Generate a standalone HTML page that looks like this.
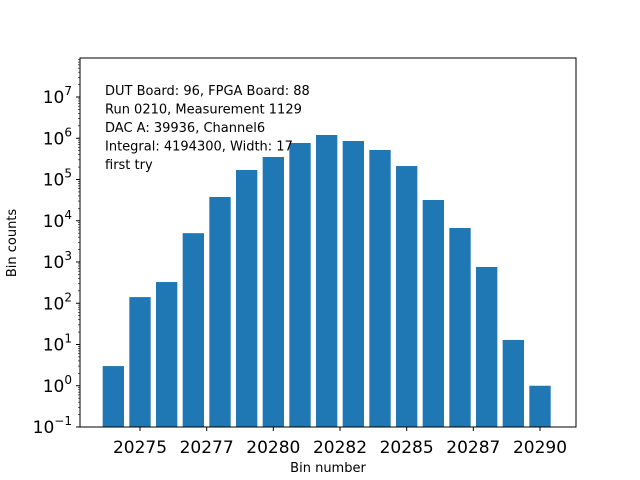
<!DOCTYPE html>
<html><head><meta charset="utf-8"><style>
body{margin:0;background:#fff}
svg{display:block;font-family:"DejaVu Sans","Liberation Sans",sans-serif}
</style></head><body>
<svg id="chart" width="640" height="480" viewBox="0 0 640 480"></svg>
<script>
const bins = [20274,20275,20276,20277,20278,20279,20280,20281,20282,20283,20284,20285,20286,20287,20288,20289,20290];
const counts = [3,141,327,5000,37700,170000,351000,767000,1200000,857000,519000,212000,31900,6670,757,12.9,1];
const xTicks = [20275,20277.5,20280,20282.5,20285,20287.5,20290];
const xTickLabels = ["20275","20277","20280","20282","20285","20287","20290"];
const yTickExps = [-1,0,1,2,3,4,5,6,7];
const infoLines = ["DUT Board: 96, FPGA Board: 88","Run 0210, Measurement 1129","DAC A: 39936, Channel6","Integral: 4194300, Width: 17","first try"];

const NS="http://www.w3.org/2000/svg";
const svg=document.getElementById('chart');
const L=80,R=576,T=58,B=427;
const pxPerDecade=41.25;
function x(v){return 140+(v-20275)*26.667;}
function y(v){return B-(Math.log10(v)+1)*pxPerDecade;}
function mk(tag,attrs,parent){const e=document.createElementNS(NS,tag);for(const k in attrs)e.setAttribute(k,attrs[k]);(parent||svg).appendChild(e);return e;}

const barsG=mk('g',{});


const bw=0.8*26.667;
bins.forEach((b,i)=>{
  const top=y(counts[i]);
  const r=mk('rect',{x:x(b)-bw/2,y:top,width:bw,height:B-top,fill:'#1f77b4'},barsG);
  
  
});

const txt=mk('g',{'font-size':'13',fill:'#000'});


infoLines.forEach((s,i)=>{const t=mk('text',{x:105,y:95+i*18.5},txt);t.textContent=s;});

const frame=mk('rect',{x:L,y:T,width:R-L,height:B-T,fill:'none',stroke:'#000','stroke-width':1});



const xa=mk('g',{});


xTicks.forEach((v,i)=>{
  const px=x(v);
  mk('line',{x1:px,x2:px,y1:B,y2:B+4,stroke:'#000'},xa);
  const t=mk('text',{x:px,y:B+26,'text-anchor':'middle','font-size':'17'},xa);
  t.textContent=xTickLabels[i];
});
const xl=mk('text',{x:328,y:472,'text-anchor':'middle','font-size':'13'});
xl.textContent='Bin number';



const ya=mk('g',{});


yTickExps.forEach(e=>{
  const py=y(Math.pow(10,e));
  mk('line',{x1:L-4,x2:L,y1:py,y2:py,stroke:'#000'},ya);
  const t=mk('text',{x:L-8,y:py+6,'text-anchor':'end','font-size':'17'},ya);
  t.textContent='10';
  const s=mk('tspan',{dy:'-8','font-size':'12'},t);
  s.textContent=String(e).replace('-','\u2212');
});
for(let e=-1;e<8;e++){for(let m=2;m<10;m++){const v=m*Math.pow(10,e);const py=y(v);if(py<T)continue;
  mk('line',{x1:L-2,x2:L,y1:py,y2:py,stroke:'#000','stroke-width':0.6},ya);}}
const yl=mk('text',{x:16,y:243,'text-anchor':'middle','font-size':'13',transform:'rotate(-90 16 243)'});
yl.textContent='Bin counts';


</script>
</body></html>
